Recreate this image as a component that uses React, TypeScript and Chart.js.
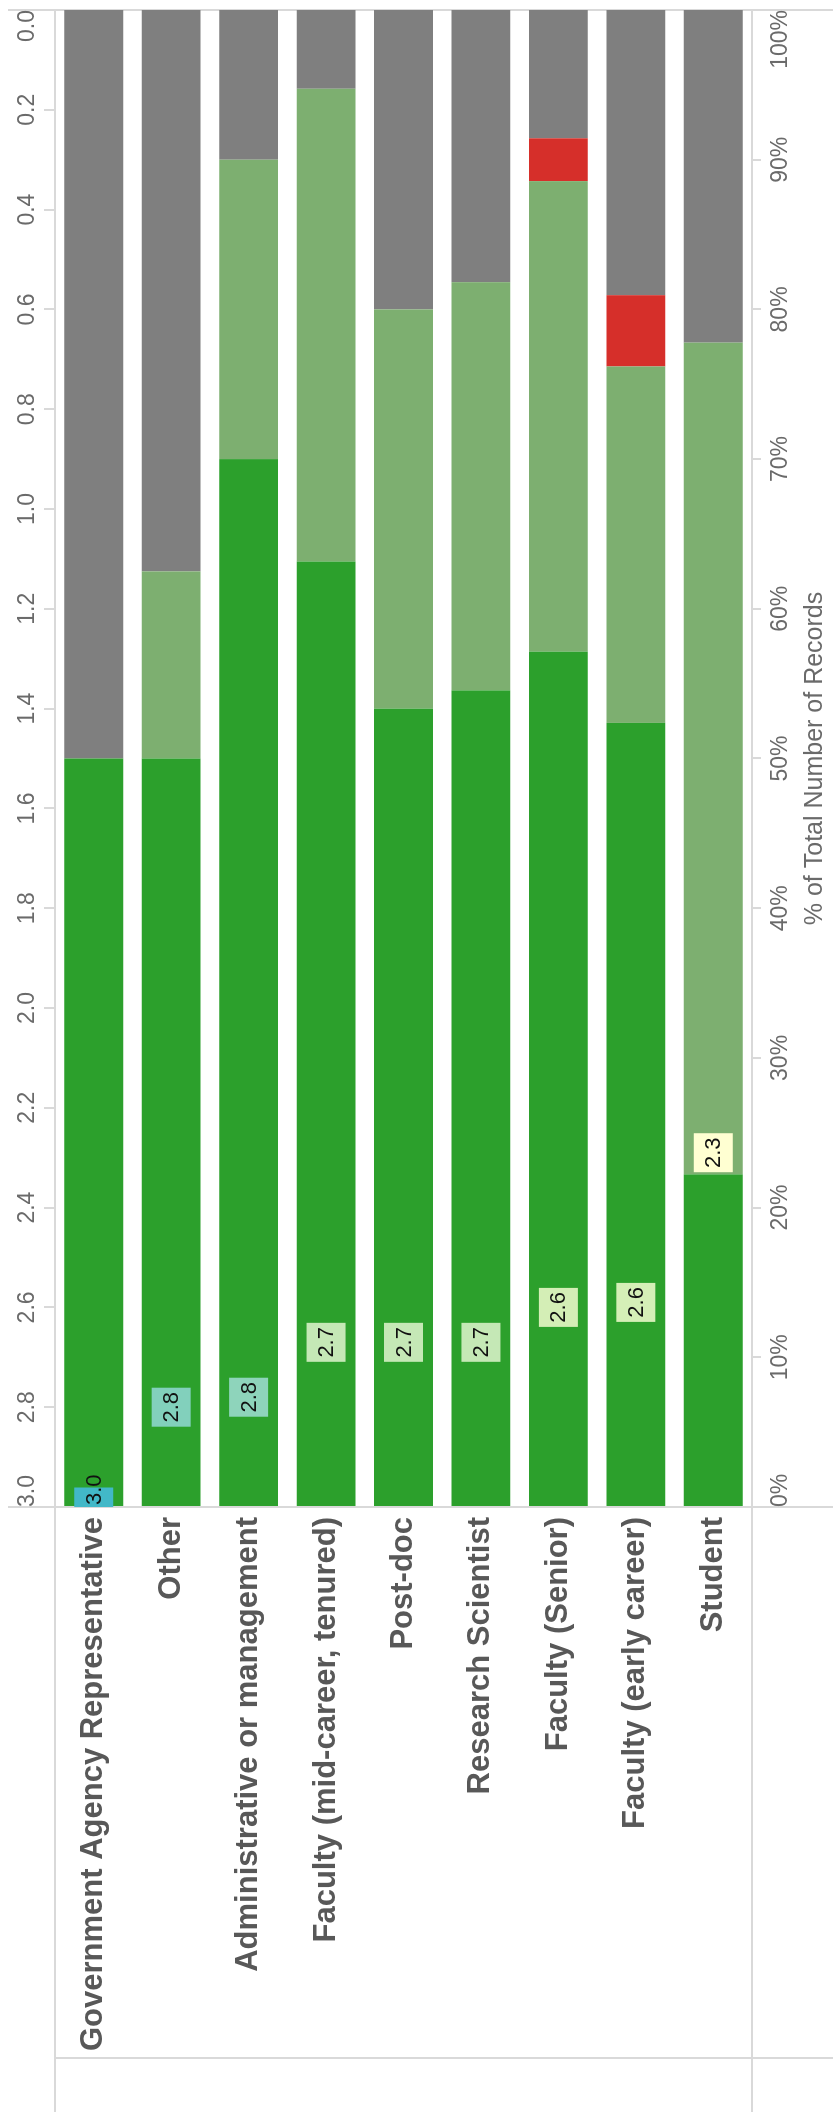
import React, { useEffect, useRef } from "react";
import { Chart, registerables } from "chart.js";

Chart.register(...registerables);

// ---- data ----
const categories = [
  "Government Agency Representative",
  "Other",
  "Administrative or management",
  "Faculty (mid-career, tenured)",
  "Post-doc",
  "Research Scientist",
  "Faculty (Senior)",
  "Faculty (early career)",
  "Student",
];
const positivePct = [50, 50, 70, 63.16, 53.33, 54.55, 57.14, 52.38, 22.22];
const mildPct = [0, 12.5, 20, 31.58, 26.67, 27.27, 31.43, 23.81, 55.56];
const negativePct = [0, 0, 0, 0, 0, 0, 2.86, 4.76, 0];
const nonePct = [50, 37.5, 10, 5.26, 20, 18.18, 8.57, 19.05, 22.22];
const avgScore = [3.0, 2.8, 2.78, 2.67, 2.67, 2.67, 2.6, 2.59, 2.29];
const pctTicks = [0, 10, 20, 30, 40, 50, 60, 70, 80, 90, 100];
const scoreTicks = [0, 0.2, 0.4, 0.6, 0.8, 1.0, 1.2, 1.4, 1.6, 1.8, 2.0, 2.2, 2.4, 2.6, 2.8, 3.0];

// ---- style helpers ----
const FONT = '"Liberation Sans", Arial, sans-serif';
const LINE = "#d9d9d9";
const TICK_TXT = "#6a6a6a";

const colorStops: [number, number[]][] = [
  [2.3, [255, 255, 210]],
  [2.6, [212, 238, 182]],
  [2.7, [190, 230, 182]],
  [2.8, [130, 208, 188]],
  [3.0, [66, 184, 200]],
];
function scoreColor(v: number): string {
  if (v <= colorStops[0][0]) return `rgb(${colorStops[0][1].join(",")})`;
  for (let i = 1; i < colorStops.length; i++) {
    const [v1, c1] = colorStops[i];
    const [v0, c0] = colorStops[i - 1];
    if (v <= v1) {
      const t = (v - v0) / (v1 - v0);
      const c = c0.map((a, k) => Math.round(a + (c1[k] - a) * t));
      return `rgb(${c.join(",")})`;
    }
  }
  return `rgb(${colorStops[colorStops.length - 1][1].join(",")})`;
}

const W = 2112; // unrotated width
const H = 833; // unrotated height

const panesPlugin = {
  id: "panes",
  beforeDraw(chart: any) {
    const { ctx, chartArea: a } = chart;
    ctx.save();
    ctx.fillStyle = "#ffffff";
    ctx.fillRect(0, 0, W, H);
    ctx.strokeStyle = LINE;
    ctx.lineWidth = 2;
    const seg = (x1: number, y1: number, x2: number, y2: number) => {
      ctx.beginPath();
      ctx.moveTo(x1, y1);
      ctx.lineTo(x2, y2);
      ctx.stroke();
    };
    seg(a.left, 8, a.left, a.bottom);
    seg(a.left, a.bottom + 3, a.left, H);
    seg(a.right, 8, a.right, a.bottom);
    seg(a.right, a.bottom + 3, a.right, H);
    seg(0, a.top, a.right, a.top);
    seg(0, a.bottom, a.right, a.bottom);
    seg(54, a.top, 54, H);
    ctx.restore();
  },
};

const scoreLabelPlugin = {
  id: "scoreLabels",
  afterDatasetsDraw(chart: any) {
    const { ctx, chartArea: a } = chart;
    const xs = chart.scales.x2;
    const ys = chart.scales.y;
    ctx.save();
    ctx.beginPath();
    ctx.rect(a.left, a.top, a.right - a.left, a.bottom - a.top);
    ctx.clip();
    ctx.font = `22px ${FONT}`;
    ctx.textBaseline = "middle";
    ctx.textAlign = "center";
    avgScore.forEach((v, i) => {
      const cx = xs.getPixelForValue(v);
      const cy = ys.getPixelForValue(i);
      const box = 39;
      ctx.fillStyle = scoreColor(v);
      ctx.fillRect(cx - box / 2, cy - box / 2, box, box);
      const txt = v.toFixed(1);
      const tw = ctx.measureText(txt).width;
      const tx = Math.max(cx, a.left + tw / 2 + 2);
      ctx.fillStyle = "#111111";
      ctx.fillText(txt, tx, cy + 1);
    });
    ctx.restore();
  },
};

export default function App() {
  const canvasRef = useRef<HTMLCanvasElement | null>(null);

  useEffect(() => {
    if (!canvasRef.current) return;
    const tickFont = { family: FONT, size: 23 };
    const chart = new Chart(canvasRef.current, {
      type: "bar",
      data: {
        labels: categories,
        datasets: [
          { label: "Positive", data: positivePct, backgroundColor: "#2ca02c" },
          { label: "Mild", data: mildPct, backgroundColor: "#7daf70" },
          { label: "Negative", data: negativePct, backgroundColor: "#d62f2a" },
          { label: "None", data: nonePct, backgroundColor: "#7f7f7f" },
        ].map((d) => ({
          ...d,
          barPercentage: 0.76,
          categoryPercentage: 1,
          borderWidth: 0,
          xAxisID: "x",
          yAxisID: "y",
        })),
      },
      options: {
        indexAxis: "y",
        animation: false,
        responsive: false,
        devicePixelRatio: 1,
        layout: { padding: { left: 0, right: 10, top: 0, bottom: 0 } },
        plugins: {
          legend: { display: false },
          tooltip: { enabled: false },
        },
        scales: {
          x: {
            type: "linear",
            position: "bottom",
            stacked: true,
            min: 0,
            max: 100,
            afterBuildTicks: (s: any) => {
              s.ticks = pctTicks.map((v) => ({ value: v }));
            },
            ticks: {
              callback: (v: any) => `${v}%`,
              font: tickFont,
              color: TICK_TXT,
              align: "inner",
              padding: 6,
              maxRotation: 0,
              minRotation: 0,
            },
            grid: {
              drawOnChartArea: false,
              drawTicks: true,
              tickLength: 9,
              color: LINE,
              lineWidth: 2,
            },
            border: { display: false },
            title: {
              display: true,
              text: "% of Total Number of Records",
              font: { family: FONT, size: 25 },
              color: TICK_TXT,
              padding: { top: 0, bottom: 3 },
            },
            afterFit: (s: any) => {
              s.height = 81;
            },
          },
          x2: {
            type: "linear",
            position: "top",
            min: 0,
            max: 3,
            reverse: true,
            afterBuildTicks: (s: any) => {
              s.ticks = scoreTicks.map((v) => ({ value: v }));
            },
            ticks: {
              callback: (v: any) => Number(v).toFixed(1),
              font: tickFont,
              color: TICK_TXT,
              align: "inner",
              padding: 3,
              maxRotation: 0,
              minRotation: 0,
            },
            grid: {
              drawOnChartArea: false,
              drawTicks: true,
              tickLength: 11,
              color: LINE,
              lineWidth: 2,
            },
            border: { display: false },
            afterFit: (s: any) => {
              s.height = 55;
            },
          },
          y: {
            type: "category",
            stacked: true,
            ticks: {
              font: { family: FONT, size: 31, weight: "bold" },
              color: "#585858",
              padding: 10,
            },
            grid: { display: false, drawTicks: false },
            border: { display: false },
            afterFit: (s: any) => {
              s.width = 605;
            },
          },
        },
      } as any,
      plugins: [panesPlugin, scoreLabelPlugin],
    });
    return () => chart.destroy();
  }, []);

  return (
    <div
      style={{
        position: "absolute",
        left: 0,
        top: 0,
        width: H,
        height: W,
        overflow: "hidden",
        background: "#ffffff",
      }}
    >
      <div
        style={{
          position: "absolute",
          left: 0,
          top: 0,
          width: W,
          height: H,
          transformOrigin: "0 0",
          transform: `translate(0px, ${W}px) rotate(-90deg)`,
        }}
      >
        <canvas
          ref={canvasRef}
          width={W}
          height={H}
          style={{ display: "block", width: W, height: H }}
        />
      </div>
    </div>
  );
}
